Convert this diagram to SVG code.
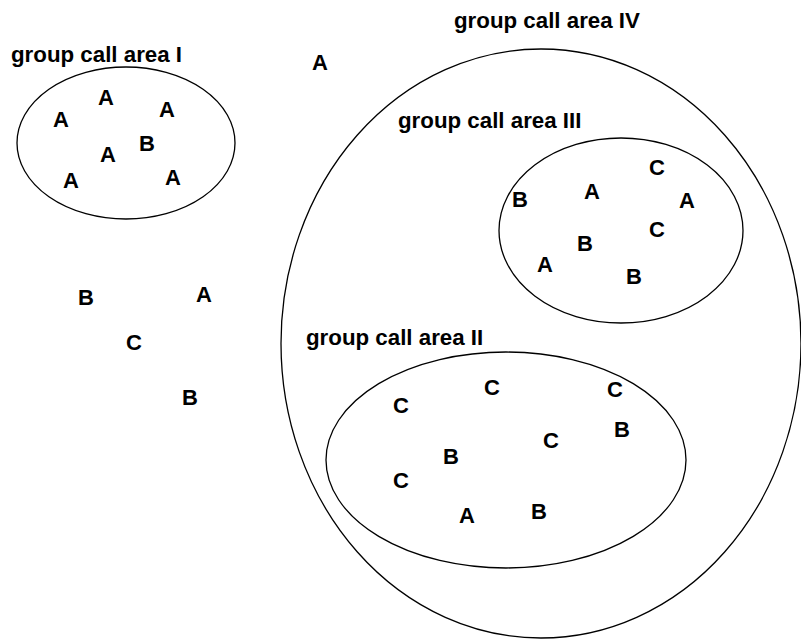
<svg xmlns="http://www.w3.org/2000/svg" width="801" height="642" viewBox="0 0 801 642">
<style>
.area{fill:none;stroke:#000;stroke-width:1.3}
.t{font-family:"Liberation Sans",Arial,sans-serif;font-weight:bold;font-size:22.3px;fill:#000}
.l{font-family:"Liberation Sans",Arial,sans-serif;font-weight:bold;font-size:22px;fill:#000;text-anchor:middle}
</style>
<rect width="801" height="642" fill="#fff"/>
<g id="area-IV">
<ellipse class="area" cx="541" cy="343.5" rx="260" ry="294.5"/>
<text class="t" x="454" y="28">group call area IV</text>
</g>
<g id="area-I">
<ellipse class="area" cx="126" cy="143" rx="109" ry="76"/>
<text class="t" x="11" y="62">group call area I</text>
<text class="l" x="106" y="105">A</text>
<text class="l" x="61" y="127">A</text>
<text class="l" x="167" y="117">A</text>
<text class="l" x="147" y="151">B</text>
<text class="l" x="108" y="162">A</text>
<text class="l" x="71" y="188">A</text>
<text class="l" x="173" y="185">A</text>
</g>
<g id="area-III">
<ellipse class="area" cx="621" cy="230.5" rx="122" ry="92.5"/>
<text class="t" x="398" y="128">group call area III</text>
<text class="l" x="657" y="175">C</text>
<text class="l" x="592" y="199">A</text>
<text class="l" x="520" y="207">B</text>
<text class="l" x="687" y="208">A</text>
<text class="l" x="657" y="237">C</text>
<text class="l" x="585" y="251">B</text>
<text class="l" x="545" y="272">A</text>
<text class="l" x="634" y="284">B</text>
</g>
<g id="area-II">
<ellipse class="area" cx="506" cy="460" rx="180" ry="108"/>
<text class="t" x="306" y="345">group call area II</text>
<text class="l" x="401" y="413">C</text>
<text class="l" x="492" y="395">C</text>
<text class="l" x="615" y="397">C</text>
<text class="l" x="622" y="437">B</text>
<text class="l" x="551" y="448">C</text>
<text class="l" x="451" y="464">B</text>
<text class="l" x="401" y="488">C</text>
<text class="l" x="467" y="523">A</text>
<text class="l" x="539" y="519">B</text>
</g>
<g id="outside">
<text class="l" x="320" y="70">A</text>
<text class="l" x="86" y="305">B</text>
<text class="l" x="204" y="302">A</text>
<text class="l" x="134" y="350">C</text>
<text class="l" x="190" y="405">B</text>
</g>
<g id="connectors"></g>
</svg>
